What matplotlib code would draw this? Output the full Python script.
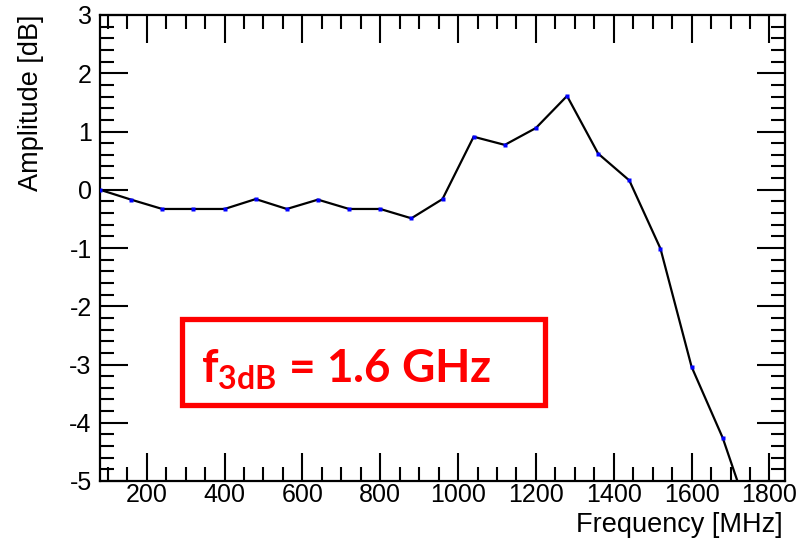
import matplotlib
matplotlib.use("Agg")
import matplotlib.pyplot as plt
from matplotlib.ticker import MultipleLocator, FixedLocator
from matplotlib.patches import Rectangle

freq_mhz = [80, 160, 240, 320, 400, 480, 560, 640, 720, 800, 880, 960,
            1040, 1120, 1200, 1280, 1360, 1440, 1520, 1600, 1680, 1760]
amp_db = [0.0, -0.17, -0.33, -0.33, -0.33, -0.16, -0.33, -0.17, -0.33, -0.33, -0.49, -0.16,
          0.91, 0.77, 1.06, 1.61, 0.62, 0.16, -1.01, -3.04, -4.26, -5.83]
x_ticks = [200, 400, 600, 800, 1000, 1200, 1400, 1600, 1800]
y_ticks = [-5, -4, -3, -2, -1, 0, 1, 2, 3]

plt.rcParams['font.family'] = ['Liberation Sans', 'DejaVu Sans']
plt.rcParams['axes.unicode_minus'] = False
plt.rcParams['mathtext.fontset'] = 'custom'
plt.rcParams['mathtext.bf'] = 'Lato:bold'
plt.rcParams['mathtext.rm'] = 'Lato:bold'

W, H = 805, 540
fig = plt.figure(figsize=(W / 100, H / 100), dpi=100)
ax = fig.add_axes([100 / W, 1 - 481 / H, 685 / W, 466 / H])

ax.plot(freq_mhz, amp_db, color='black', lw=1.6, zorder=3)
ax.plot(freq_mhz, amp_db, ls='none', marker='s', ms=2.5, mfc='#0000ff', mec='none', zorder=4)

ax.set_xlim(80, 1840)
ax.set_ylim(-5, 3)
ax.xaxis.set_major_locator(FixedLocator(x_ticks))
ax.xaxis.set_minor_locator(MultipleLocator(50))
ax.yaxis.set_major_locator(FixedLocator(y_ticks))
ax.yaxis.set_minor_locator(MultipleLocator(0.2))
ax.tick_params(which='both', direction='in', top=True, right=True, width=1.5,
               labelsize=18, color='black')
ax.tick_params(which='major', length=20)
ax.tick_params(which='minor', length=10)
ax.tick_params(axis='x', which='major', pad=1.5)
ax.tick_params(axis='y', which='major', pad=6)
for s in ax.spines.values():
    s.set_linewidth(1.6)

fig.text(31 / W, 1 - 15 / H, 'Amplitude [dB]', rotation=90, ha='center', va='top', fontsize=19.5)
fig.text(783 / W, 1 - 532 / H, 'Frequency [MHz]', ha='right', va='baseline', fontsize=19.5)

# Annotation box
box = Rectangle((182 / W, 1 - 405 / H), (545 - 182) / W, (405 - 319) / H,
                transform=fig.transFigure, fill=False, ec='#ff0000', lw=3.8, zorder=5)
fig.patches.append(box)
fig.text(201 / W, 1 - 382 / H, r'$\mathbf{f}_{\mathbf{3dB}}$ = 1.6 GHz', ha='left', va='baseline',
         fontsize=33, color='#ff0000', family='Lato', weight='bold')

fig.savefig('out.png', dpi=100)
